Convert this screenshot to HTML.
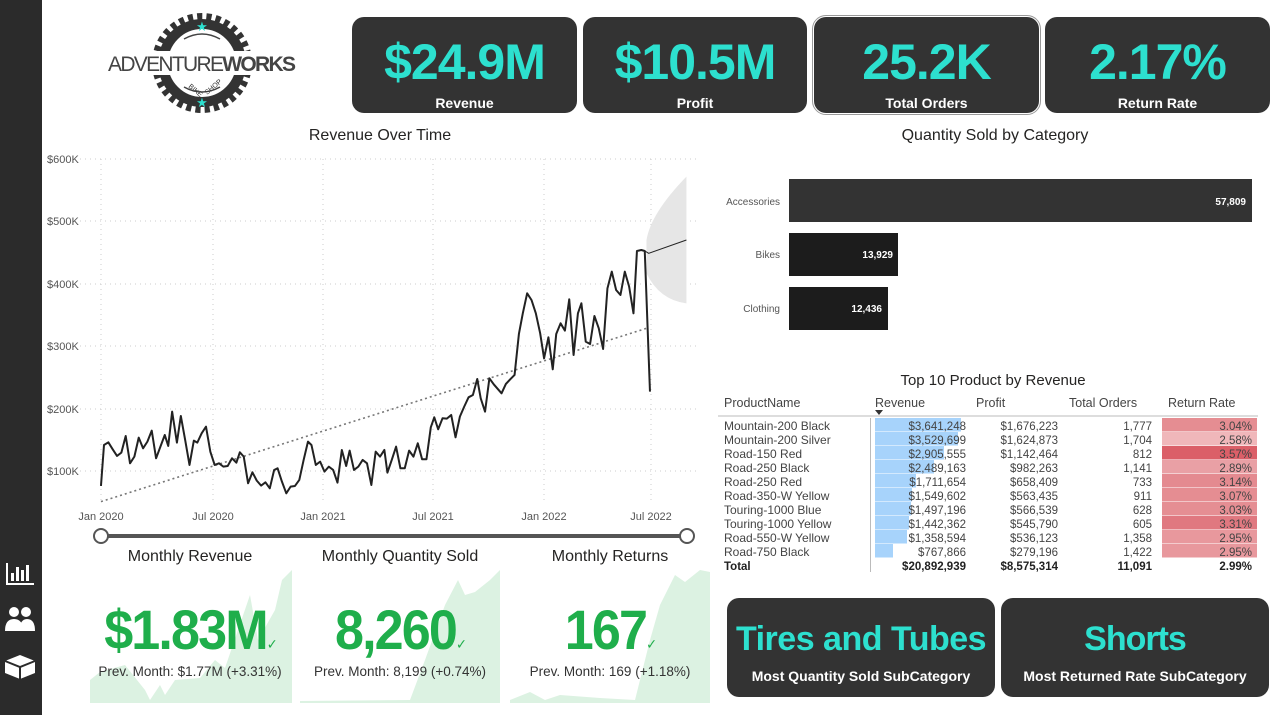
<!DOCTYPE html>
<html><head><meta charset="utf-8"><style>
*{margin:0;padding:0;box-sizing:border-box}
body{width:1276px;height:715px;background:#fff;position:relative;overflow:hidden;font-family:"Liberation Sans","DejaVu Sans",sans-serif;color:#252423}
.abs{position:absolute}
.card{position:absolute;background:#333;border-radius:12px;color:#fff;text-align:center}
.card .big{color:#2de0cf;font-weight:bold;font-size:50px;line-height:1;margin-top:20px;letter-spacing:-1px}
.card .lbl{font-size:14px;font-weight:bold;margin-top:8px}
.title{position:absolute;font-size:16px;color:#252423;text-align:center}
.tbl{position:absolute;left:718px;top:394px;width:540px;font-size:12.5px;color:#444}
.row{position:absolute;left:0;height:14px;width:540px}
.row span{position:absolute;top:0;white-space:nowrap}
.kpi{position:absolute;text-align:center;width:210px}
.kpi .n{color:#1fae4b;font-weight:bold;font-size:56px;line-height:1;letter-spacing:-2px;transform:scaleX(0.93)}
.kpi .p{font-size:13.5px;color:#333;margin-top:6px}
</style></head><body>
<div class="abs" style="left:0;top:0;width:42px;height:715px;background:#2b2b2b"></div>
<svg class="abs" style="left:0;top:555px" width="42" height="130">
<g fill="#fff"><rect x="6" y="8" width="2" height="22"/><rect x="6" y="28" width="28" height="2"/><rect x="11" y="18" width="3" height="8"/><rect x="16" y="12" width="3" height="14"/><rect x="21" y="15" width="3" height="11"/><rect x="26" y="10" width="3" height="16"/>
<circle cx="14" cy="57" r="5"/><circle cx="26" cy="57" r="5"/><path d="M5 76 Q5 64 14 64 Q23 64 23 76Z"/><path d="M19 76 Q20 64 27 64 Q35 64 35 76Z"/>
<path d="M5 106 L20 100 L35 106 L35 118 L20 124 L5 118Z"/></g><path d="M5 106 L20 112 L35 106 M20 112 L20 124" stroke="#2b2b2b" stroke-width="2" fill="none"/></svg>
<svg class="abs" style="left:100px;top:8px" width="205" height="110">
<g transform="translate(102,55)">
<circle r="45" fill="none" stroke="#333" stroke-width="10" stroke-dasharray="5 4"/>
<circle r="39" fill="none" stroke="#333" stroke-width="10"/>
<rect x="-105" y="-12" width="210" height="24" fill="#fff"/>
<path d="M-18 -24 Q0 -34 18 -24" stroke="#444" stroke-width="1.5" fill="none"/>
<path d="M-18 24 Q0 34 18 24" stroke="#444" stroke-width="1.5" fill="none"/>
<text x="0" y="-32" font-size="13" fill="#2de0cf" text-anchor="middle">★</text>
<text x="0" y="44" font-size="13" fill="#2de0cf" text-anchor="middle">★</text>
<text x="-14" y="24" font-size="7" fill="#333" transform="rotate(40 -14 24)">BIKE</text>
<text x="5" y="32" font-size="7" fill="#333" transform="rotate(-40 5 32)">SHOP</text>
</g>
<text x="8" y="63" font-size="21" fill="#444" textLength="188">ADVENTURE<tspan font-weight="bold">WORKS</tspan></text>
</svg>
<div class="card" style="left:352px;top:17px;width:225px;height:96px"><div class="big">$24.9M</div><div class="lbl">Revenue</div></div>
<div class="card" style="left:583px;top:17px;width:224px;height:96px"><div class="big">$10.5M</div><div class="lbl">Profit</div></div>
<div class="card" style="left:814px;top:17px;width:225px;height:96px;outline:1px solid #999;outline-offset:1px"><div class="big">25.2K</div><div class="lbl">Total Orders</div></div>
<div class="card" style="left:1045px;top:17px;width:225px;height:96px"><div class="big">2.17%</div><div class="lbl">Return Rate</div></div>

<div class="title" style="left:250px;top:127px;width:260px">Revenue Over Time</div>
<div class="title" style="left:870px;top:127px;width:250px">Quantity Sold by Category</div>

<svg class="abs" style="left:0;top:0" width="720" height="560">
<g font-size="11" fill="#555">
<text x="47" y="163">$600K</text><text x="47" y="225">$500K</text><text x="47" y="288">$400K</text><text x="47" y="350">$300K</text><text x="47" y="413">$200K</text><text x="47" y="475">$100K</text>
<g text-anchor="middle"><text x="101" y="520">Jan 2020</text><text x="213" y="520">Jul 2020</text><text x="323" y="520">Jan 2021</text><text x="433" y="520">Jul 2021</text><text x="544" y="520">Jan 2022</text><text x="651" y="520">Jul 2022</text></g>
</g>
<g stroke="#ccc" stroke-width="1" stroke-dasharray="1 4">
<line x1="80" y1="159" x2="700" y2="159"/><line x1="80" y1="221" x2="700" y2="221"/><line x1="80" y1="284" x2="700" y2="284"/><line x1="80" y1="346" x2="700" y2="346"/><line x1="80" y1="409" x2="700" y2="409"/><line x1="80" y1="471" x2="700" y2="471"/>
<line x1="101" y1="159" x2="101" y2="500"/><line x1="213" y1="159" x2="213" y2="500"/><line x1="323" y1="159" x2="323" y2="500"/><line x1="433" y1="159" x2="433" y2="500"/><line x1="544" y1="159" x2="544" y2="500"/><line x1="651" y1="159" x2="651" y2="500"/></g>
<g transform="translate(38.9,140) scale(0.434,0.3333)">
<path d="M1400 300 Q1410 220 1492 110 L1492 490 Q1430 480 1400 400 Z" fill="#e6e6e6"/>
<line x1="143" y1="1085" x2="1400" y2="565" stroke="#777" stroke-width="1.6" stroke-dasharray="2 3" vector-effect="non-scaling-stroke"/>
<polyline fill="none" stroke="#222" stroke-width="2" stroke-linejoin="round" vector-effect="non-scaling-stroke" points="143,1038 150,915 160,907 170,928 180,948 190,938 200,888 210,970 220,950 230,893 240,925 250,905 260,872 270,955 280,920 290,885 298,918 307,815 318,908 327,828 337,900 347,975 357,902 365,908 375,880 385,860 395,935 405,975 415,970 425,980 435,978 445,955 455,968 463,937 472,950 482,1030 492,997 502,1022 512,1037 522,1027 532,1045 542,990 550,985 560,1025 570,1060 580,1040 590,1038 600,1020 610,960 620,905 628,915 638,975 648,965 658,995 668,980 678,990 688,1028 698,930 708,978 716,932 726,990 736,980 746,960 756,970 766,1035 776,935 786,950 796,930 803,998 813,960 823,920 833,985 843,985 853,932 863,950 873,910 883,958 893,958 903,862 911,832 920,868 930,835 940,836 950,825 960,892 970,830 980,800 990,772 1000,765 1010,717 1018,775 1028,815 1038,715 1048,733 1066,760 1076,732 1086,718 1096,705 1106,582 1115,520 1125,460 1135,480 1145,520 1155,580 1164,655 1174,592 1184,688 1192,582 1202,550 1212,572 1222,478 1232,645 1242,520 1250,490 1260,605 1270,612 1280,528 1290,565 1300,627 1310,445 1320,395 1330,450 1340,465 1350,395 1360,440 1370,520 1378,333 1388,330 1396,333 1408,755"/>
<polyline fill="none" stroke="#222" stroke-width="1" vector-effect="non-scaling-stroke" points="1396,333 1405,340 1492,300"/>
</g>
<line x1="101" y1="536" x2="687" y2="536" stroke="#555" stroke-width="4"/>
<circle cx="101" cy="536" r="7" fill="#fff" stroke="#555" stroke-width="2"/>
<circle cx="687" cy="536" r="7" fill="#fff" stroke="#555" stroke-width="2"/>
</svg>

<div class="abs" style="left:789px;top:179px;width:463px;height:43px;background:#333"></div>
<div class="abs" style="left:789px;top:233px;width:109px;height:43px;background:#1c1c1c"></div>
<div class="abs" style="left:789px;top:287px;width:99px;height:43px;background:#1c1c1c"></div>
<div class="abs" style="left:700px;top:197px;width:80px;text-align:right;font-size:10px;color:#555">Accessories</div>
<div class="abs" style="left:700px;top:250px;width:80px;text-align:right;font-size:10px;color:#555">Bikes</div>
<div class="abs" style="left:700px;top:304px;width:80px;text-align:right;font-size:10px;color:#555">Clothing</div>
<div class="abs" style="left:1150px;top:197px;width:96px;text-align:right;font-size:10px;color:#fff;font-weight:bold">57,809</div>
<div class="abs" style="left:800px;top:250px;width:93px;text-align:right;font-size:10px;color:#fff;font-weight:bold">13,929</div>
<div class="abs" style="left:800px;top:304px;width:82px;text-align:right;font-size:10px;color:#fff;font-weight:bold">12,436</div>

<div class="abs" style="left:718px;top:372px;width:550px;text-align:center;font-size:15px">Top 10 Product by Revenue</div>
<div class="tbl">
<div class="row" style="top:2px;font-size:12.5px"><span style="left:6px">ProductName</span><span style="left:157px">Revenue</span><span style="left:258px">Profit</span><span style="left:351px">Total Orders</span><span style="left:450px">Return Rate</span></div>
<div class="abs" style="left:157px;top:16px;width:0;height:0;border:4px solid transparent;border-top:5px solid #333"></div>
<div class="abs" style="left:0;top:21px;width:540px;height:2px;background:#ddd"></div>
<div class="abs" style="left:152px;top:24px;width:1px;height:154px;background:#bbb"></div>
</div>
<svg class="abs" style="left:718px;top:418px" width="550" height="142">
<g fill="#a7d3fb">
<rect x="157" y="0" width="86" height="13.5"/><rect x="157" y="14" width="83" height="13.5"/><rect x="157" y="28" width="69" height="13.5"/><rect x="157" y="42" width="59" height="13.5"/><rect x="157" y="56" width="41" height="13.5"/><rect x="157" y="70" width="37" height="13.5"/><rect x="157" y="84" width="36" height="13.5"/><rect x="157" y="98" width="34" height="13.5"/><rect x="157" y="112" width="32" height="13.5"/><rect x="157" y="126" width="18" height="13.5"/></g>
<g><rect x="444" y="0" width="95" height="13.5" fill="#e58d92"/><rect x="444" y="14" width="95" height="13.5" fill="#f0b7ba"/><rect x="444" y="28" width="95" height="13.5" fill="#db5f68"/><rect x="444" y="42" width="95" height="13.5" fill="#e9a0a5"/><rect x="444" y="56" width="95" height="13.5" fill="#e48a90"/><rect x="444" y="70" width="95" height="13.5" fill="#e58d92"/><rect x="444" y="84" width="95" height="13.5" fill="#e58e93"/><rect x="444" y="98" width="95" height="13.5" fill="#e07880"/><rect x="444" y="112" width="95" height="13.5" fill="#e8989d"/><rect x="444" y="126" width="95" height="13.5" fill="#e8989d"/></g>
<g font-size="12" fill="#444">
<g><text x="6" y="12">Mountain-200 Black</text><text x="6" y="26">Mountain-200 Silver</text><text x="6" y="40">Road-150 Red</text><text x="6" y="54">Road-250 Black</text><text x="6" y="68">Road-250 Red</text><text x="6" y="82">Road-350-W Yellow</text><text x="6" y="96">Touring-1000 Blue</text><text x="6" y="110">Touring-1000 Yellow</text><text x="6" y="124">Road-550-W Yellow</text><text x="6" y="138">Road-750 Black</text></g>
<g text-anchor="end" font-size="11.5"><text x="248" y="12">$3,641,248</text><text x="248" y="26">$3,529,699</text><text x="248" y="40">$2,905,555</text><text x="248" y="54">$2,489,163</text><text x="248" y="68">$1,711,654</text><text x="248" y="82">$1,549,602</text><text x="248" y="96">$1,497,196</text><text x="248" y="110">$1,442,362</text><text x="248" y="124">$1,358,594</text><text x="248" y="138">$767,866</text>
<text x="340" y="12">$1,676,223</text><text x="340" y="26">$1,624,873</text><text x="340" y="40">$1,142,464</text><text x="340" y="54">$982,263</text><text x="340" y="68">$658,409</text><text x="340" y="82">$563,435</text><text x="340" y="96">$566,539</text><text x="340" y="110">$545,790</text><text x="340" y="124">$536,123</text><text x="340" y="138">$279,196</text>
<text x="434" y="12">1,777</text><text x="434" y="26">1,704</text><text x="434" y="40">812</text><text x="434" y="54">1,141</text><text x="434" y="68">733</text><text x="434" y="82">911</text><text x="434" y="96">628</text><text x="434" y="110">605</text><text x="434" y="124">1,358</text><text x="434" y="138">1,422</text>
<text x="534" y="12">3.04%</text><text x="534" y="26">2.58%</text><text x="534" y="40">3.57%</text><text x="534" y="54">2.89%</text><text x="534" y="68">3.14%</text><text x="534" y="82">3.07%</text><text x="534" y="96">3.03%</text><text x="534" y="110">3.31%</text><text x="534" y="124">2.95%</text><text x="534" y="138">2.95%</text></g>
</g></svg>
<svg class="abs" style="left:718px;top:558px" width="550" height="16" font-family="Liberation Sans" font-size="11.5" font-weight="bold" fill="#222">
<text x="6" y="12">Total</text><g text-anchor="end"><text x="248" y="12">$20,892,939</text><text x="340" y="12">$8,575,314</text><text x="434" y="12">11,091</text><text x="534" y="12">2.99%</text></g></svg>

<svg class="abs" style="left:0;top:560px" width="720" height="155">
<g fill="#dcf2e2">
<path d="M90 120 L100 112 L125 105 L145 130 L150 140 L160 125 L165 135 L175 120 L200 118 L215 100 L225 108 L250 35 L258 80 L275 50 L282 20 L292 10 L292 143 L90 143Z"/>
<path d="M300 143 L300 141 L410 140 L425 100 L445 45 L458 20 L465 35 L475 32 L490 20 L500 10 L500 143Z"/>
<path d="M510 140 L530 132 L545 140 L560 135 L600 138 L635 140 L650 80 L660 45 L675 15 L685 22 L700 10 L710 12 L710 143 L510 143Z"/>
</g></svg>
<div class="title" style="left:90px;top:548px;width:200px">Monthly Revenue</div>
<div class="title" style="left:300px;top:548px;width:200px">Monthly Quantity Sold</div>
<div class="title" style="left:510px;top:548px;width:200px">Monthly Returns</div>
<div class="kpi" style="left:85px;top:602px"><div class="n">$1.83M<span style="font-size:14px">✓</span></div><div class="p">Prev. Month: $1.77M (+3.31%)</div></div>
<div class="kpi" style="left:295px;top:602px"><div class="n">8,260<span style="font-size:14px">✓</span></div><div class="p">Prev. Month: 8,199 (+0.74%)</div></div>
<div class="kpi" style="left:505px;top:602px"><div class="n">167<span style="font-size:14px">✓</span></div><div class="p">Prev. Month: 169 (+1.18%)</div></div>

<div class="card" style="left:727px;top:598px;width:268px;height:99px"><div class="big" style="font-size:34px;margin-top:24px;letter-spacing:-0.5px">Tires and Tubes</div><div class="lbl" style="margin-top:12px">Most Quantity Sold SubCategory</div></div>
<div class="card" style="left:1001px;top:598px;width:268px;height:99px"><div class="big" style="font-size:34px;margin-top:24px">Shorts</div><div class="lbl" style="margin-top:12px">Most Returned Rate SubCategory</div></div>
</body></html>
